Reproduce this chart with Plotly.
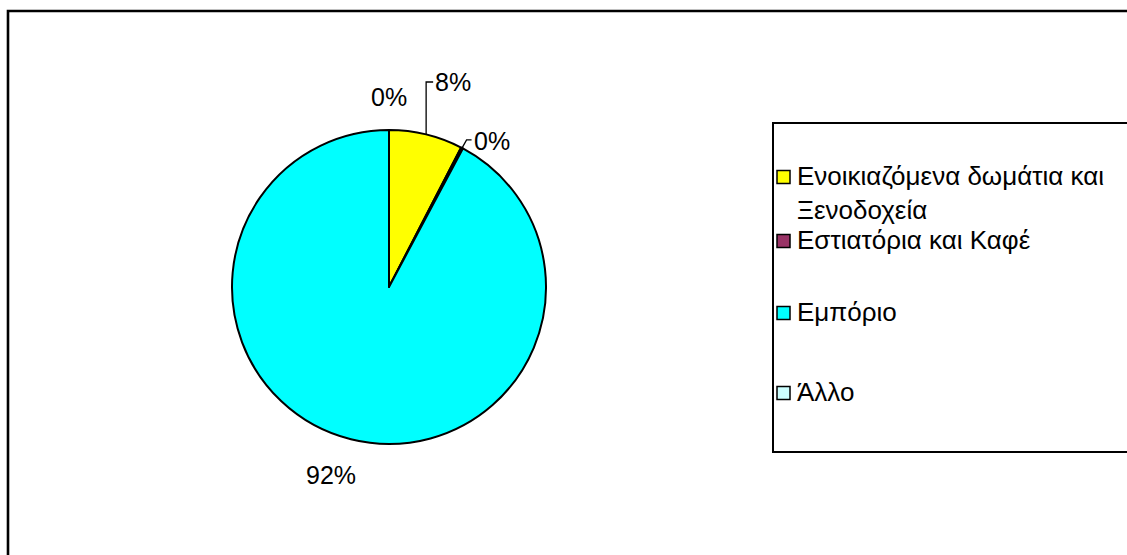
import math
import plotly.graph_objects as go

# ---- data ----
categories = ["Ενοικιαζόμενα δωμάτια και Ξενοδοχεία", "Εστιατόρια και Καφέ", "Εμπόριο", "Άλλο"]
legend_labels = ["Ενοικιαζόμενα δωμάτια και<br>Ξενοδοχεία", "Εστιατόρια και Καφέ", "Εμπόριο", "Άλλο"]
values = [7.6, 0.2, 92.2, 0.0]
colors = ["#FFFF00", "#993366", "#00FFFF", "#CCFFFF"]

W, H = 1127, 555
FONT = "Liberation Sans, Arial, sans-serif"
FS = 25
FS_LEG = 26

# pie geometry (pixels)
cx, cy, R = 389, 287, 157

def px(x):
    return x / W

def py(y):
    return 1 - y / H

fig = go.Figure()
fig.add_trace(go.Pie(
    labels=categories, values=values, sort=False, direction="clockwise", rotation=0,
    marker=dict(colors=colors, line=dict(color="black", width=2)),
    textinfo="none", hoverinfo="label+percent", showlegend=False,
    domain=dict(x=[px(cx - R), px(cx + R)], y=[py(cy + R), py(cy - R)]),
))

# ---- percentage labels computed from the data ----
total = sum(values)
cum = 0
mids = []
for v in values:
    mids.append((cum + v / 2) / total * 360)
    cum += v
pcts = [f"{round(v / total * 100)}%" for v in values]

def edge(i, r=R):
    a = math.radians(mids[i])
    return cx + r * math.sin(a), cy - r * math.cos(a)

anns = []
shapes = []
font = dict(family=FONT, size=FS, color="black")

# slice 0: bracket leader going straight up then right
ex0, ey0 = edge(0)
ty0 = cy - 205
shapes.append(dict(type="path", xref="paper", yref="paper",
                   path=f"M {px(ex0)} {py(ey0)} L {px(ex0)} {py(ty0)} L {px(ex0 + 7)} {py(ty0)}",
                   line=dict(color="black", width=1.3)))
anns.append(dict(x=px(ex0 + 7), y=py(ty0), text=pcts[0], xanchor="left", yanchor="middle"))

# slice 1: short diagonal leader then right
ex1, ey1 = edge(1, R - 1)
shapes.append(dict(type="path", xref="paper", yref="paper",
                   path=f"M {px(ex1)} {py(ey1)} L {px(ex1 + 5)} {py(ey1 - 9)} L {px(ex1 + 10)} {py(ey1 - 9)}",
                   line=dict(color="black", width=1.3)))
anns.append(dict(x=px(ex1 + 10), y=py(ey1 - 8), text=pcts[1], xanchor="left", yanchor="middle"))

# slices 2 and 3: plain outside labels
for i, (r, da) in zip([2, 3], [(197, 3), (190, 0)]):
    a = math.radians(mids[i] + da)
    anns.append(dict(x=px(cx + r * math.sin(a)), y=py(cy - r * math.cos(a)), text=pcts[i],
                     xanchor="center", yanchor="middle"))

for a in anns:
    a.update(xref="paper", yref="paper", showarrow=False, font=font)

# outer chart border
shapes.append(dict(type="rect", xref="paper", yref="paper",
                   x0=px(8), x1=px(1140), y0=py(570), y1=py(11),
                   line=dict(color="black", width=2.6)))
# legend box
shapes.append(dict(type="rect", xref="paper", yref="paper",
                   x0=px(773), x1=px(1140), y0=py(452), y1=py(123),
                   line=dict(color="black", width=2), fillcolor="rgba(0,0,0,0)"))

# legend entries
leg_y = [177, 241, 313, 393]
for i, lab in enumerate(legend_labels):
    yy = leg_y[i]
    shapes.append(dict(type="rect", xref="paper", yref="paper",
                       x0=px(777), x1=px(790), y0=py(yy + 6.5), y1=py(yy - 6.5),
                       fillcolor=colors[i], line=dict(color="black", width=1.5)))
    anns.append(dict(x=px(795), y=py(yy - 18), xref="paper", yref="paper", text=lab,
                     showarrow=False, align="left", xanchor="left", yanchor="top",
                     font=dict(family=FONT, size=FS_LEG, color="black")))

fig.update_layout(
    width=W, height=H, margin=dict(l=0, r=0, t=0, b=0),
    paper_bgcolor="white", plot_bgcolor="white",
    annotations=anns, shapes=shapes, showlegend=False,
)
fig.write_html("out.html")
